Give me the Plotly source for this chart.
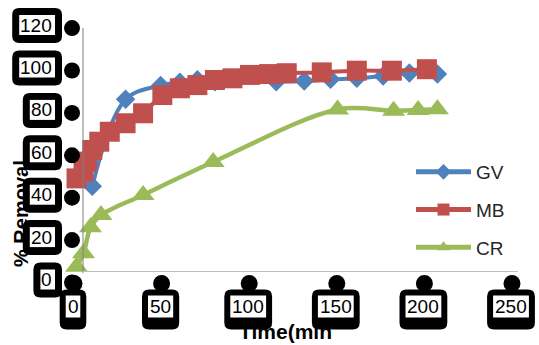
import plotly.graph_objects as go

# Removal (%) of three dyes over contact time (min)
gv_time = [9, 28, 48, 59, 69, 79, 114, 130, 145, 160, 175, 190, 206]
gv_removal = [44, 85, 91.5, 93, 94.2, 93.3, 93.3, 93.6, 94.4, 94.9, 96, 97.4, 96.9]

mb_time = [0, 4, 6, 9, 13, 19, 28, 38, 49, 59, 69, 79, 89, 99, 110, 120, 140, 160, 180, 200]
mb_removal = [47.7, 50.8, 55.6, 61.1, 65, 69.7, 73.7, 78.4, 87, 90.2, 91.7, 94.1, 94.9,
              96.5, 96.9, 97.3, 97.7, 98.5, 98.5, 99.2]

cr_time = [0, 4, 8, 14, 38, 78, 149, 181, 195, 206]
cr_removal = [6, 12.4, 24.6, 30.4, 39.9, 55.4, 80.2, 79.6, 80, 80.3]

x_ticks = [0, 50, 100, 150, 200, 250]
y_ticks = [0, 20, 40, 60, 80, 100, 120]

W, H = 539, 345
# figure pixel <-> data scale (plot area spans the whole page)
X0, XS = 76.5, 1.752
Y0, YS = 279.5, 2.12
x_range = [(0 - X0) / XS, (W - X0) / XS]
y_range = [(Y0 - H) / YS, Y0 / YS]

FONT = "Liberation Sans"
BLUE, RED, GREEN = "#4F81BD", "#C0504D", "#9BBB59"

fig = go.Figure()
fig.add_trace(go.Scatter(
    x=gv_time, y=gv_removal, name="GV", mode="lines+markers", legendgroup="a",
    line=dict(color=BLUE, width=4, shape="spline", smoothing=1),
    marker=dict(symbol="diamond", size=15, color=BLUE)))
fig.add_trace(go.Scatter(
    x=mb_time, y=mb_removal, name="MB", mode="lines+markers", legendgroup="b",
    line=dict(color=RED, width=4, shape="spline", smoothing=1),
    marker=dict(symbol="square", size=20, color=RED)))
fig.add_trace(go.Scatter(
    x=cr_time, y=cr_removal, name="CR", mode="lines+markers", legendgroup="c",
    line=dict(color=GREEN, width=4.5, shape="spline", smoothing=1),
    marker=dict(symbol="triangle-up", size=20, color=GREEN)))


def px(x):
    return x / W


def py(y):
    return 1 - y / H


def rounded_rect(x0, y0, x1, y1, r):
    pts = [
        f"M{px(x0 + r)},{py(y0)}", f"L{px(x1 - r)},{py(y0)}",
        f"Q{px(x1)},{py(y0)} {px(x1)},{py(y0 + r)}", f"L{px(x1)},{py(y1 - r)}",
        f"Q{px(x1)},{py(y1)} {px(x1 - r)},{py(y1)}", f"L{px(x0 + r)},{py(y1)}",
        f"Q{px(x0)},{py(y1)} {px(x0)},{py(y1 - r)}", f"L{px(x0)},{py(y0 + r)}",
        f"Q{px(x0)},{py(y0)} {px(x0 + r)},{py(y0)}", "Z"]
    return " ".join(pts)


shapes = []


def black_box(x0, y0, x1, y1, r):
    shapes.append(dict(type="path", xref="paper", yref="paper", path=rounded_rect(x0, y0, x1, y1, r),
                       fillcolor="black", line=dict(width=0), layer="above"))


def white_box(x0, y0, x1, y1):
    shapes.append(dict(type="rect", xref="paper", yref="paper", x0=px(x0), x1=px(x1),
                       y0=py(y1), y1=py(y0), fillcolor="white", line=dict(width=0), layer="above"))


def knob(cx, cy, r):
    shapes.append(dict(type="circle", xref="paper", yref="paper", x0=px(cx - r), x1=px(cx + r),
                       y0=py(cy + r), y1=py(cy - r), fillcolor="black", line=dict(width=0), layer="above"))


# axis lines
shapes.append(dict(type="line", xref="paper", yref="paper", x0=px(83), x1=px(83), y0=py(28), y1=py(273),
                   line=dict(color="#7f7f7f", width=1)))
shapes.append(dict(type="line", xref="paper", yref="paper", x0=px(83), x1=px(518), y0=py(271.5), y1=py(271.5),
                   line=dict(color="#bfbfbf", width=1.2)))

annotations = []
DIGIT = 10.6

for v in y_ticks:
    cy = Y0 - v * YS
    w = DIGIT * len(str(v))
    il = 53 - w - 2
    black_box(il - 7, cy - 17, 62, cy + 18, 7)
    white_box(il, cy - 10, 55, cy + 10)
    knob(72, cy + 3, 8)
    annotations.append(dict(x=px(54), xref="paper", y=v, yref="y", text=str(v), showarrow=False,
                            xanchor="right", yanchor="middle", font=dict(family=FONT, size=19, color="black")))

for t in x_ticks:
    cx = X0 + t * XS - 3.5
    cy = 306.5
    w = DIGIT * len(str(t))
    il, ir = cx - w / 2 - 2, cx + w / 2 + 2
    knob(cx + 1, cy - 23, 8.5)
    black_box(il - 6, cy - 17, ir + 6, cy + 23, 7)
    white_box(il, cy - 11, ir, cy + 11)
    annotations.append(dict(x=t, xref="x", xshift=-3.5, y=py(cy), yref="paper", text=str(t), showarrow=False,
                            xanchor="center", yanchor="middle", font=dict(family=FONT, size=19, color="black")))

annotations.append(dict(x=px(21), y=py(214), xref="paper", yref="paper", text="<b>% Removal</b>",
                        textangle=-90, showarrow=False, xanchor="center", yanchor="middle",
                        font=dict(family=FONT, size=20, color="black")))
annotations.append(dict(x=px(285), y=py(331), xref="paper", yref="paper", text="<b>Time(min</b>",
                        showarrow=False, xanchor="center", yanchor="middle",
                        font=dict(family=FONT, size=21, color="black")))

fig.update_layout(
    width=W, height=H, margin=dict(l=0, r=0, t=0, b=0),
    paper_bgcolor="white", plot_bgcolor="white",
    xaxis=dict(range=x_range, visible=False, fixedrange=True),
    yaxis=dict(range=y_range, visible=False, fixedrange=True),
    shapes=shapes, annotations=annotations,
    showlegend=True,
    legend=dict(x=px(411), y=py(153), xanchor="left", yanchor="top", bgcolor="rgba(0,0,0,0)",
                font=dict(family=FONT, size=19, color="#262626"), itemsizing="constant",
                tracegroupgap=10, itemwidth=55),
)

fig.write_html("out.html", config={"displayModeBar": False})
